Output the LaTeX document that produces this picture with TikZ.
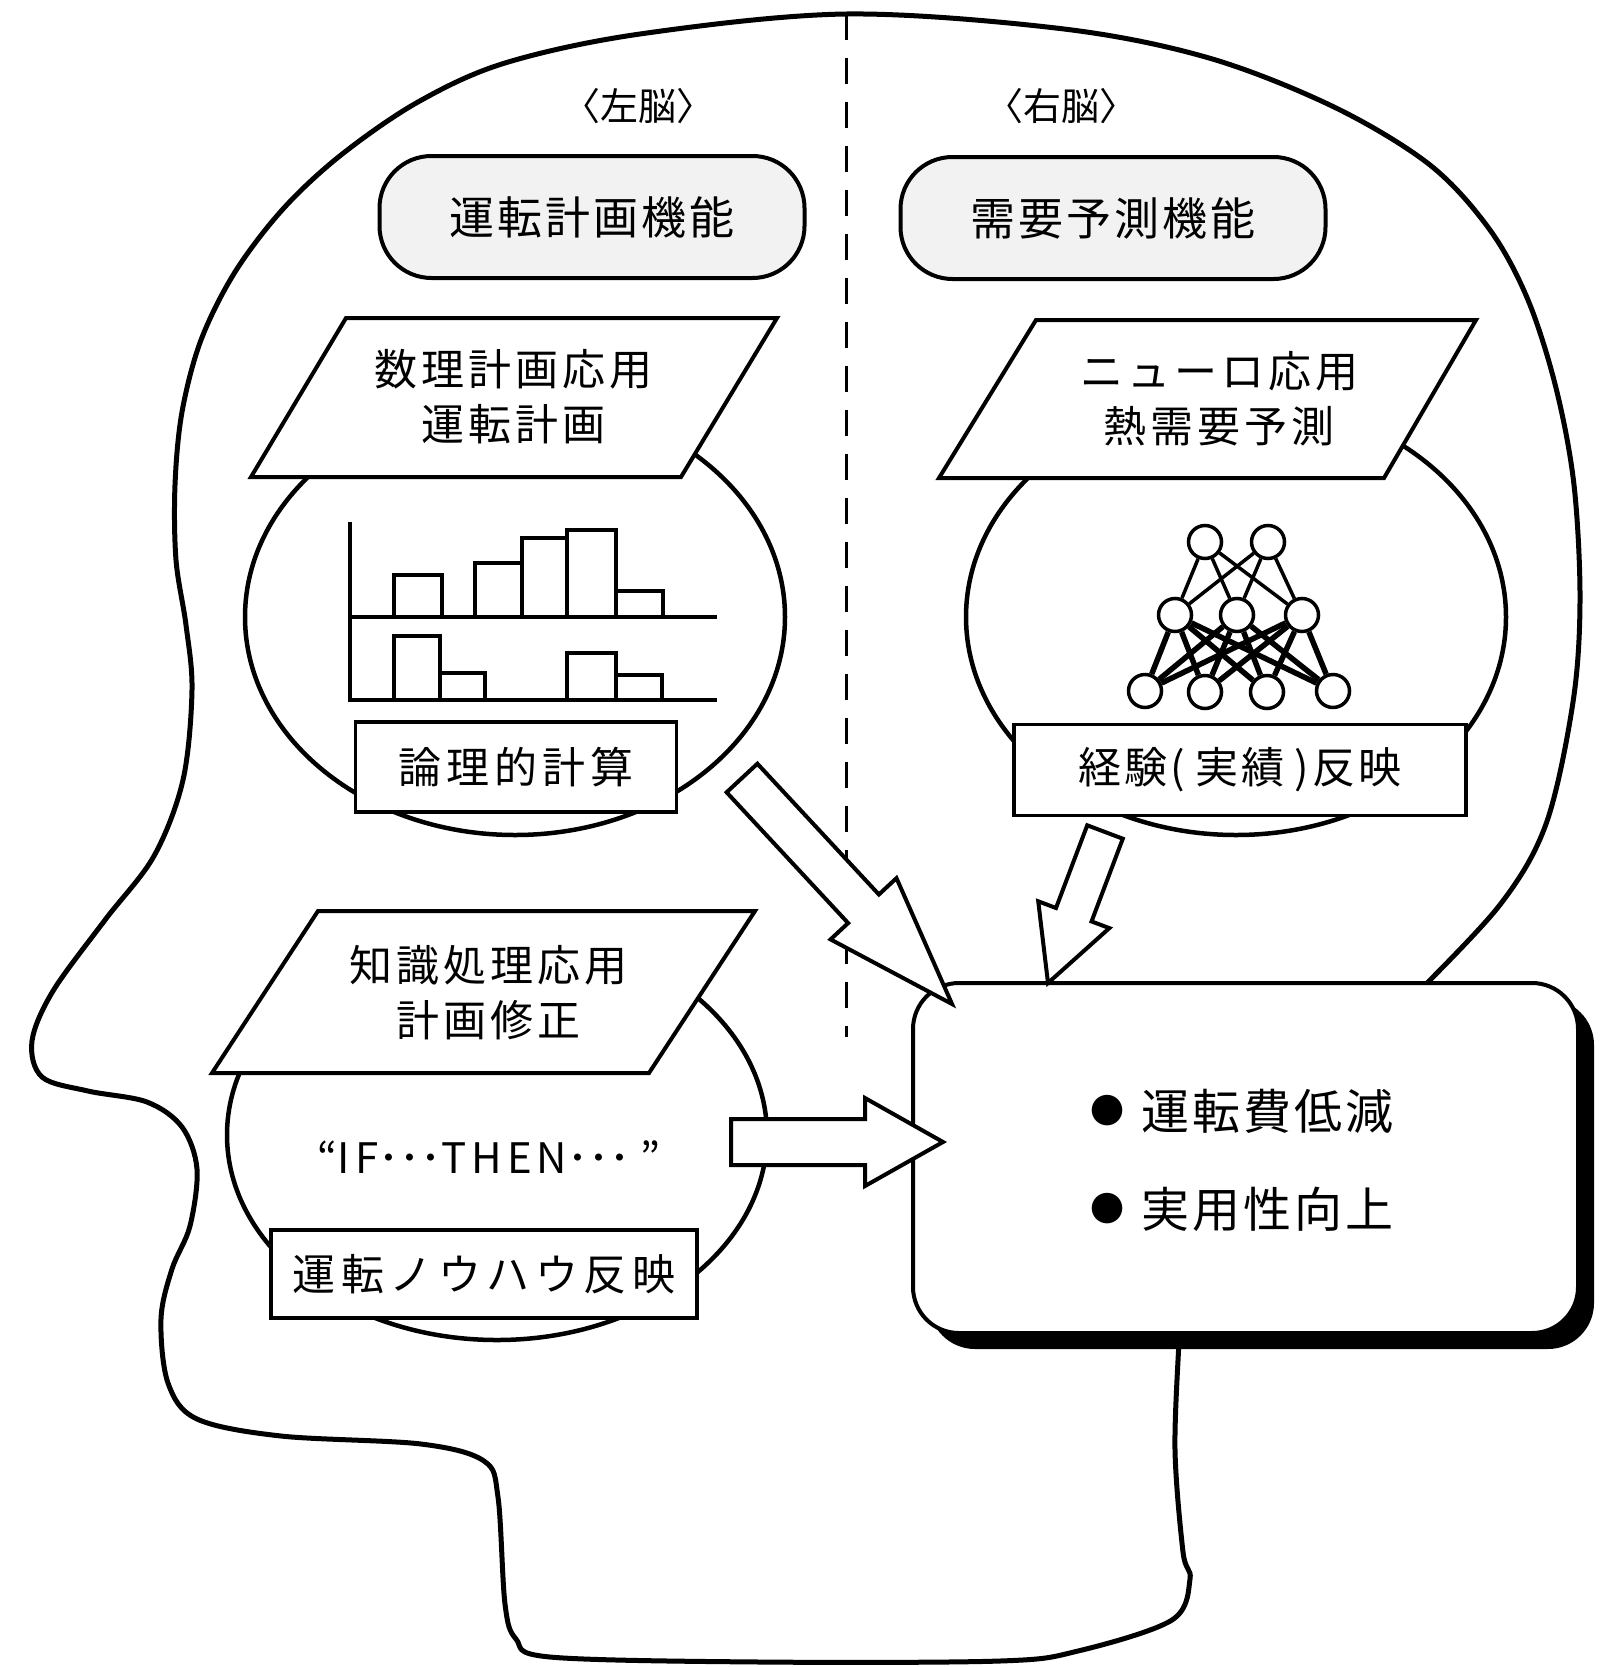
\documentclass[tikz,border=0pt]{standalone}
\usepackage{fontspec}
\setmainfont{Noto Sans CJK JP}
\usetikzlibrary{calc,shapes.geometric,shadows}

\newcommand\setfs[2]{\fontsize{#1}{#2}\selectfont}

% spread the characters of a string apart by a fixed kern
\ExplSyntaxOn
\bool_new:N \l_spread_first_bool
\NewDocumentCommand \spreadtext { m m }
  {
    \bool_set_true:N \l_spread_first_bool
    \tl_map_inline:nn {#2}
      {
        \bool_if:NTF \l_spread_first_bool
          { \bool_set_false:N \l_spread_first_bool }
          { \kern #1 \relax }
        ##1
      }
  }
\ExplSyntaxOff

% block arrow: name, tail, tip, body half-width, head half-width, head length
\newcommand\blockarrow[6]{%
  \coordinate (#1-base) at ($(#3)!#6!(#2)$);
  \draw[arrowbox]
    ($(#2)!#4!90:(#3)$) --
    ($(#1-base)!#4!-90:(#2)$) --
    ($(#1-base)!#5!-90:(#2)$) --
    (#3) --
    ($(#1-base)!#5!90:(#2)$) --
    ($(#1-base)!#4!90:(#2)$) --
    ($(#2)!#4!-90:(#3)$) -- cycle;
}

\begin{document}
\begin{tikzpicture}[x=1pt, y=-1pt,
  headline/.style={line width=5pt, line join=round, line cap=round},
  blob/.style={draw, ellipse, fill=white, line width=4.5pt,
    minimum width=540pt, minimum height=436pt, inner sep=0pt},
  funcbox/.style={draw, fill=gray!10, line width=4pt, rounded corners=52pt,
    minimum width=425pt, minimum height=122pt, inner sep=0pt,
    font=\setfs{45pt}{54pt}},
  para/.style={draw, fill=white, line width=4pt, line join=miter},
  paratext/.style={align=center, inner sep=0pt, font=\setfs{43pt}{55pt}},
  labelbox/.style={draw, fill=white, line width=3.5pt, inner sep=0pt,
    font=\setfs{43pt}{50pt}},
  bar/.style={line width=4pt, line join=miter},
  neuron/.style={circle, draw, fill=white, line width=3.5pt,
    minimum size=33pt, inner sep=0pt},
  synapse/.style={line width=3.5pt},
  densesynapse/.style={line width=5.5pt},
  arrowbox/.style={draw, fill=white, line width=4pt, line join=miter},
  divider/.style={line width=3pt, dash pattern=on 26pt off 18pt},
  resultbox/.style={draw, fill=white, line width=4pt, rounded corners=46pt,
    minimum width=665pt, minimum height=350pt, inner sep=0pt,
    drop shadow={shadow xshift=16pt, shadow yshift=-16pt, fill=black, opacity=1}},
  plain/.style={inner sep=0pt},
]
\useasboundingbox (0,0) rectangle (1612,1667);
\fill[white] (0,0) rectangle (1612,1667);

% head silhouette
\draw[headline] plot[smooth, tension=0.55] coordinates {
  (1410,1000) (1499,906) (1546,824) (1573,702) (1580,600) (1574,485)
  (1556,388) (1528,300) (1490,230) (1430,165) (1334,107) (1209,58)
  (1064,29) (847,14) (640,34) (505,63) (418,102) (341,155) (283,209)
  (235,272) (201,340) (182,412) (175,485) (176,560) (186,625) (192,690)
  (183,780) (154,856) (105,920) (53,991) (32,1041) (42,1077) (88,1091)
  (147,1102) (182,1127) (197,1169) (190,1226) (172,1269) (161,1319)
  (168,1383) (197,1419) (281,1436) (421,1444) (484,1461) (498,1497)
  (505,1604) (516,1639) (550,1657) (760,1662) (1000,1661) (1078,1651)
  (1172,1620) (1190,1579) (1183,1552) (1175,1450) (1179,1340) (1180,1320)};

% hemisphere divider
\coordinate (divtop) at (846,14);
\coordinate (divbot) at (846,1037);
\draw[divider] (divtop) -- (divbot);

% hemisphere labels
\node[plain, font=\setfs{38pt}{40pt}] (lefthemi) at (638,106) {〈左脳〉};
\node[plain, font=\setfs{38pt}{40pt}] (righthemi) at (1061,106) {〈右脳〉};

% function headers
\node[funcbox] (planfunc) at (592,217) {\spreadtext{3pt}{運転計画機能}};
\node[funcbox] (demandfunc) at (1113,218) {\spreadtext{3pt}{需要予測機能}};

% rounded regions
\node[blob] (blobplan) at (515,617) {};
\node[blob] (blobneuro) at (1236,617) {};
\node[blob, minimum height=410pt] (blobrule) at (497,1135) {};

% parallelogram captions
\draw[para] (346,318) -- (777,318) -- (681,477) -- (251,477) -- cycle;
\node[paratext] (mathplan) at (513,397)
  {\spreadtext{4pt}{数理計画応用}\\\spreadtext{4pt}{運転計画}};
\draw[para] (1036,320) -- (1476,320) -- (1384,478) -- (939,478) -- cycle;
\node[paratext] (neuroapp) at (1219,399)
  {\spreadtext{4pt}{ニューロ応用}\\\spreadtext{4pt}{熱需要予測}};
\draw[para] (318,911) -- (755,911) -- (649,1073) -- (212,1073) -- cycle;
\node[paratext] (knowapp) at (488,993)
  {\spreadtext{4pt}{知識処理応用}\\\spreadtext{4pt}{計画修正}};

% bar charts
\draw[bar] (350,522) -- (350,700) -- (717,700);
\draw[bar] (350,617) -- (717,617);
\draw[bar] (394,617) |- (442,575) -- (442,617);
\draw[bar] (475,617) |- (522,563) -- (522,617);
\draw[bar] (522,617) |- (567,538) -- (567,617);
\draw[bar] (567,617) |- (616,530) -- (616,617);
\draw[bar] (616,617) |- (663,591) -- (663,617);
\draw[bar] (394,700) |- (440,636) -- (440,700);
\draw[bar] (440,700) |- (485,673) -- (485,700);
\draw[bar] (567,700) |- (616,653) -- (616,700);
\draw[bar] (616,700) |- (662,675) -- (662,700);

% neural network
\node[neuron] (t1) at (1205,542) {};
\node[neuron] (t2) at (1268,542) {};
\node[neuron] (m1) at (1175,615) {};
\node[neuron] (m2) at (1237,615) {};
\node[neuron] (m3) at (1302,615) {};
\node[neuron] (b1) at (1145,691) {};
\node[neuron] (b2) at (1205,692) {};
\node[neuron] (b3) at (1267,692) {};
\node[neuron] (b4) at (1333,691) {};
\foreach \u in {t1,t2}
  \foreach \v in {m1,m2,m3}
    \draw[synapse] (\u) -- (\v);
\foreach \u in {m1,m2,m3}
  \foreach \v in {b1,b2,b3,b4}
    \draw[densesynapse] (\u) -- (\v);

% labels under each region
\node[labelbox, minimum width=321pt, minimum height=90pt] (logic) at (516,767)
  {\spreadtext{5pt}{論理的計算}};
\node[labelbox, minimum width=452pt, minimum height=91pt] (experience) at (1240,770)
  {\spreadtext{3pt}{経験}\kern3pt(\kern10pt\spreadtext{3pt}{実績}\kern10pt)\kern3pt\spreadtext{3pt}{反映}};
\node[labelbox, minimum width=426pt, minimum height=88pt] (knowhow) at (484,1274)
  {\spreadtext{5.5pt}{運転ノウハウ反映}};

% rule text
\node[plain, font=\setfs{42pt}{44pt}] (rule) at (489,1157)
  {“\spreadtext{5pt}{IF}･･･\spreadtext{5pt}{THEN}･･･\kern10pt”};

% outcome box
\node[resultbox] (result) at (1245.5,1158) {};
\node[plain, font=\setfs{34pt}{36pt}] (dot1) at (1107,1111) {●};
\node[plain, font=\setfs{34pt}{36pt}] (dot2) at (1107,1209) {●};
\node[plain, anchor=west, font=\setfs{48pt}{50pt}] (cost) at (1141,1111)
  {\spreadtext{3pt}{運転費低減}};
\node[plain, anchor=west, font=\setfs{48pt}{50pt}] (usable) at (1141,1209)
  {\spreadtext{3pt}{実用性向上}};

% block arrows into the outcome box
\coordinate (aTail) at (742,778);
\coordinate (aTip) at (952,1004);
\blockarrow{arrA}{aTail}{aTip}{21pt}{45pt}{130pt}
\coordinate (bTail) at (1105,832);
\coordinate (bTip) at (1048,983);
\blockarrow{arrB}{bTail}{bTip}{19pt}{38pt}{73pt}
\coordinate (cTail) at (731,1142);
\coordinate (cTip) at (943,1142);
\blockarrow{arrC}{cTail}{cTip}{23pt}{44pt}{78pt}
\end{tikzpicture}
\end{document}
